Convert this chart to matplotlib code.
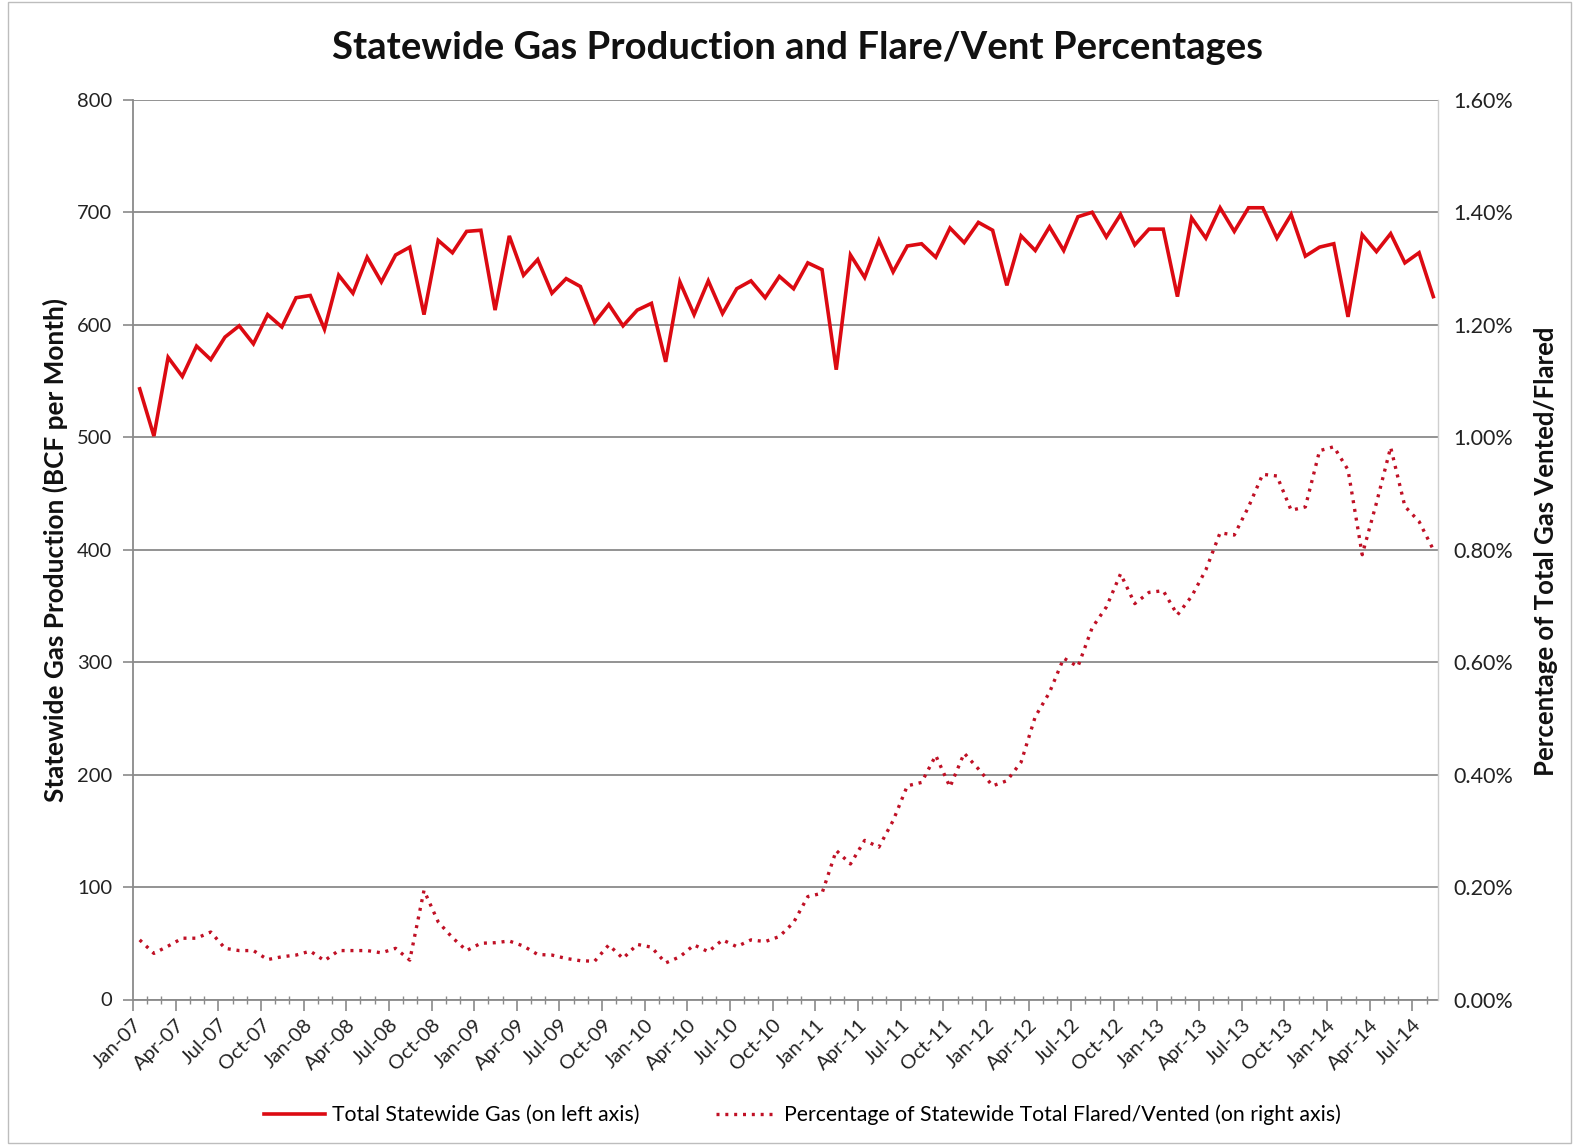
import matplotlib
matplotlib.use("Agg")
import matplotlib.pyplot as plt
from matplotlib.ticker import MultipleLocator, FixedLocator, FuncFormatter
from matplotlib.patches import Rectangle

plt.rcParams['font.family'] = ['Lato', 'DejaVu Sans']

# ---------------- data ----------------
months = ["Jan-07", "Feb-07", "Mar-07", "Apr-07", "May-07", "Jun-07", "Jul-07", "Aug-07", "Sep-07", "Oct-07", "Nov-07", "Dec-07",
          "Jan-08", "Feb-08", "Mar-08", "Apr-08", "May-08", "Jun-08", "Jul-08", "Aug-08", "Sep-08", "Oct-08", "Nov-08", "Dec-08",
          "Jan-09", "Feb-09", "Mar-09", "Apr-09", "May-09", "Jun-09", "Jul-09", "Aug-09", "Sep-09", "Oct-09", "Nov-09", "Dec-09",
          "Jan-10", "Feb-10", "Mar-10", "Apr-10", "May-10", "Jun-10", "Jul-10", "Aug-10", "Sep-10", "Oct-10", "Nov-10", "Dec-10",
          "Jan-11", "Feb-11", "Mar-11", "Apr-11", "May-11", "Jun-11", "Jul-11", "Aug-11", "Sep-11", "Oct-11", "Nov-11", "Dec-11",
          "Jan-12", "Feb-12", "Mar-12", "Apr-12", "May-12", "Jun-12", "Jul-12", "Aug-12", "Sep-12", "Oct-12", "Nov-12", "Dec-12",
          "Jan-13", "Feb-13", "Mar-13", "Apr-13", "May-13", "Jun-13", "Jul-13", "Aug-13", "Sep-13", "Oct-13", "Nov-13", "Dec-13",
          "Jan-14", "Feb-14", "Mar-14", "Apr-14", "May-14", "Jun-14", "Jul-14", "Aug-14"]

gas_bcf = [543, 501, 571, 554, 581, 569, 589, 599, 583, 609, 598, 624,
           626, 596, 644, 628, 660, 638, 662, 669, 609, 675, 664, 683,
           684, 613, 679, 644, 658, 628, 641, 634, 602, 618, 599, 613,
           619, 567, 638, 609, 639, 610, 632, 639, 624, 643, 632, 655,
           649, 560, 662, 642, 675, 647, 670, 672, 660, 686, 673, 691,
           684, 635, 679, 666, 687, 666, 696, 700, 678, 698, 671, 685,
           685, 625, 695, 677, 704, 683, 704, 704, 677, 698, 661, 669,
           672, 607, 680, 665, 681, 655, 664, 625]

flared_pct = [0.106, 0.082, 0.095, 0.109, 0.109, 0.120, 0.091, 0.087, 0.087, 0.071, 0.076, 0.079,
              0.086, 0.069, 0.087, 0.087, 0.087, 0.083, 0.091, 0.070, 0.194, 0.138, 0.110, 0.087,
              0.100, 0.101, 0.104, 0.095, 0.080, 0.079, 0.073, 0.069, 0.068, 0.097, 0.073, 0.098,
              0.093, 0.065, 0.076, 0.097, 0.085, 0.106, 0.094, 0.106, 0.103, 0.112, 0.137, 0.183,
              0.189, 0.265, 0.241, 0.283, 0.271, 0.318, 0.380, 0.386, 0.434, 0.378, 0.438, 0.410,
              0.380, 0.389, 0.422, 0.503, 0.546, 0.607, 0.592, 0.661, 0.698, 0.757, 0.704, 0.724,
              0.727, 0.684, 0.717, 0.764, 0.830, 0.826, 0.876, 0.934, 0.931, 0.870, 0.876, 0.976,
              0.983, 0.942, 0.791, 0.883, 0.982, 0.877, 0.850, 0.800]

tick_labels = ["Jan-07", "Apr-07", "Jul-07", "Oct-07", "Jan-08", "Apr-08", "Jul-08", "Oct-08",
               "Jan-09", "Apr-09", "Jul-09", "Oct-09", "Jan-10", "Apr-10", "Jul-10", "Oct-10",
               "Jan-11", "Apr-11", "Jul-11", "Oct-11", "Jan-12", "Apr-12", "Jul-12", "Oct-12",
               "Jan-13", "Apr-13", "Jul-13", "Oct-13", "Jan-14", "Apr-14", "Jul-14"]

title = "Statewide Gas Production and Flare/Vent Percentages"
left_label = "Statewide Gas Production (BCF per Month)"
right_label = "Percentage of Total Gas Vented/Flared"
series_names = ["Total Statewide Gas (on left axis)",
                "Percentage of Statewide Total Flared/Vented (on right axis)"]

# ---------------- figure ----------------
W, H = 1579, 1148
fig = plt.figure(figsize=(W / 100, H / 100), dpi=100)
fig.patch.set_facecolor("white")

L, R, T, B = 133, 1438, 99.8, 999.5
ax = fig.add_axes([L / W, 1 - B / H, (R - L) / W, (B - T) / H])
ax2 = ax.twinx()

# x positions: mid-month on a monthly axis starting at Jan-07
xpos = [months.index(m) + 0.47 for m in months]
tick_pos = [months.index(t) for t in tick_labels]

red_solid = "#DC0A12"
red_dot = "#C01025"

l1, = ax.plot(xpos, gas_bcf, color=red_solid, lw=2.6, solid_joinstyle="miter", zorder=5)
l2, = ax2.plot(xpos, flared_pct, color=red_dot, lw=2.4, linestyle=(0, (0.9, 1.75)), zorder=5)

ax.set_xlim(0, 91.8)
ax.set_ylim(0, 800)
ax2.set_ylim(0, 1.6)

ax.yaxis.set_major_locator(MultipleLocator(100))
ax2.yaxis.set_major_locator(MultipleLocator(0.2))
ax2.yaxis.set_major_formatter(FuncFormatter(lambda v, p: f"{v:.2f}%"))

ax.xaxis.set_major_locator(FixedLocator(tick_pos))
ax.xaxis.set_minor_locator(MultipleLocator(1))
ax.set_xticklabels(tick_labels, rotation=45, ha="right", rotation_mode="anchor")

gridc = "#8a8a8a"
ax.grid(axis="y", color=gridc, lw=1.3)
ax.set_axisbelow(True)

for s in ["top"]:
    ax.spines[s].set_visible(False)
    ax2.spines[s].set_visible(False)
ax.spines["left"].set_color(gridc)
ax.spines["bottom"].set_color(gridc)
ax.spines["left"].set_linewidth(1.3)
ax.spines["bottom"].set_linewidth(1.3)
ax2.spines["left"].set_visible(False)
ax2.spines["bottom"].set_visible(False)
ax2.spines["right"].set_color("#cfcfcf")
ax2.spines["right"].set_linewidth(1.0)
ax.spines["right"].set_visible(False)

ax.tick_params(axis="y", which="major", direction="out", length=7, width=1.2, color=gridc,
               labelsize=14.5, pad=8, labelcolor="#222222")
ax.tick_params(axis="x", which="major", direction="out", length=8, width=1.2, color=gridc,
               labelsize=14.5, pad=4, labelcolor="#222222")
ax.tick_params(axis="x", which="minor", direction="inout", length=6, width=1.0, color=gridc)
ax2.tick_params(axis="y", which="major", length=0, labelsize=15.5, pad=11, labelcolor="#222222")

fig.text(0.505, 0.958, title, ha="center", va="center", fontsize=27.5, fontweight="bold", color="#111111")
fig.text(0.035, 0.521, left_label, ha="center", va="center", rotation=90,
         fontsize=18.8, fontweight="bold", color="#111111")
fig.text(0.979, 0.520, right_label, ha="center", va="center", rotation=90,
         fontsize=18.5, fontweight="bold", color="#111111")

fig.legend([l1, l2], series_names, loc="center", bbox_to_anchor=(0.508, 0.029), ncol=2,
           frameon=False, fontsize=15.3, handlelength=2.9, handletextpad=0.3, columnspacing=3.6)

# thin chart border
fig.patches.append(Rectangle((8 / W, 0.004), 1 - 16 / W, 0.994, transform=fig.transFigure,
                             fill=False, edgecolor="#bdbdbd", lw=1.0))

fig.savefig("out.png", dpi=100, facecolor="white")
